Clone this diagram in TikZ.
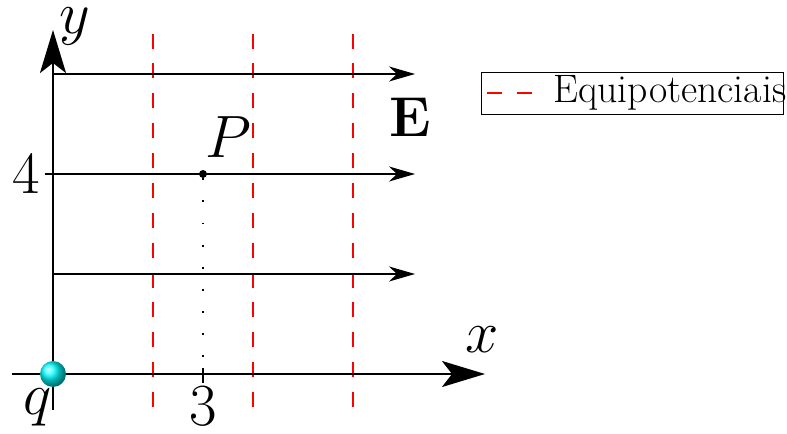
\RequirePackage{fix-cm}
\documentclass[tikz,border=0pt]{standalone}
\usepackage{tikz}
\usetikzlibrary{arrows.meta}

\begin{document}
\begin{tikzpicture}[
    big/.style={font=\fontsize{34}{40}\selectfont, inner sep=0pt},
    axis/.style={line width=1.3pt, -{Stealth[length=8.6mm, width=5.2mm, inset=2mm]}},
    field/.style={line width=0.7pt, -{Stealth[length=5.2mm, width=3mm, inset=1.6mm]}},
    equi/.style={red, line width=1.6pt, dash pattern=on 8.5pt off 8.5pt},
    guide/.style={line width=1pt, dash pattern=on 1pt off 11.6pt},
    tick/.style={line width=1pt},
  ]
  \useasboundingbox (-1.06,-1.18) rectangle (14.68,7.48);
  \coordinate (O) at (0,0);
  \coordinate (xmin) at (-0.82,0);
  \coordinate (xmax) at (8.64,0);
  \coordinate (ymin) at (0,-0.72);
  \coordinate (ymax) at (0,6.88);

  % equipotentials
  \foreach \i in {2,4,6}{
    \coordinate (eb\i) at (\i,-0.66);
    \coordinate (et\i) at (\i,6.84);
    \draw[equi] (eb\i) -- (et\i);
  }

  % field lines
  \foreach \j in {2,4,6}{
    \coordinate (fs\j) at (0,\j);
    \coordinate (fe\j) at (7.24,\j);
    \draw[field] (fs\j) -- (fe\j);
  }

  % axes
  \draw[axis] (xmin) -- (xmax);
  \draw[axis] (ymin) -- (ymax);
  \node[big] (xlbl) at (8.58,0.68) {$x$};
  \node[big] (ylbl) at (0.44,6.96) {$y$};

  % ticks
  \coordinate (t4a) at (-0.16,4);
  \coordinate (t3a) at (3,0.12);
  \coordinate (t3b) at (3,-0.18);
  \draw[tick] (t4a) -- (fs4);
  \draw[tick] (t3a) -- (t3b);
  \node[big] (four) at (-0.54,4) {$4$};
  \node[big] (three) at (3,-0.64) {$3$};

  % point P
  \node[circle, fill, inner sep=0pt, minimum size=1.6mm] (P) at (3,4) {};
  \node[big] (Plbl) at (3.5,4.74) {$P$};
  \draw[guide] (P) -- (t3a);

  \node[font=\fontsize{32}{36}\selectfont, inner sep=0pt] (E) at (7.14,5.14) {$\mathbf{E}$};

  % charge
  \node[circle, ball color=cyan, minimum size=5.2mm, inner sep=0pt] (q) at (O) {};
  \node[big] (qlbl) at (-0.3,-0.66) {$q$};

  % legend
  \node[draw, line width=0.8pt, anchor=north west, minimum width=6.04cm,
        minimum height=0.84cm, inner sep=0pt] (legbox) at (8.56,6.04) {};
  \coordinate (la) at (8.68,5.62);
  \coordinate (lb) at (9.58,5.62);
  \draw[equi] (la) -- (lb);
  \node[anchor=west, font=\fontsize{22.6}{26}\selectfont, inner sep=0pt] (legtext) at (10.0,5.62) {Equipotenciais};
\end{tikzpicture}
\end{document}
